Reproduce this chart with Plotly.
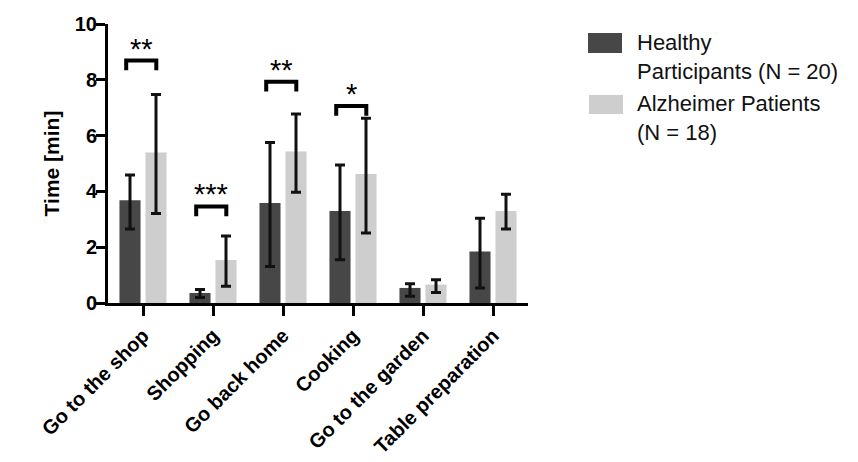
import plotly.graph_objects as go

categories = ["Go to the shop", "Shopping", "Go back home", "Cooking", "Go to the garden", "Table preparation"]

healthy_mean = [3.68, 0.36, 3.58, 3.30, 0.54, 1.85]
healthy_upper = [4.59, 0.48, 5.75, 4.95, 0.69, 3.04]
healthy_lower = [2.65, 0.20, 1.31, 1.55, 0.24, 0.54]

alz_mean = [5.39, 1.54, 5.43, 4.62, 0.66, 3.30]
alz_upper = [7.47, 2.40, 6.77, 6.62, 0.83, 3.90]
alz_lower = [3.21, 0.60, 3.97, 2.51, 0.38, 2.65]

sig_groups = [0, 1, 2, 3]
sig_labels = ["**", "***", "**", "*"]
sig_levels = [8.69, 3.46, 7.93, 7.06]

yticks = [0, 2, 4, 6, 8, 10]

DARK = "#474747"
LIGHT = "#cecece"
INK = "#111111"
FONT = "Liberation Sans, Arial, sans-serif"

# page body has an 8px default margin; compensate so the plot lands where it should
OFF = 8
W, H = 858 - OFF, 462 - OFF
L, R, T, B = 108 - OFF, 330, 24 - OFF, 159
PW, PH = W - L - R, H - T - B


def px_x(px):
    return (px - OFF - L) / PW


def px_y(py):
    return (OFF + H - B - py) / PH


idx = list(range(len(categories)))

fig = go.Figure()
fig.add_trace(go.Bar(
    x=idx, y=healthy_mean, name="Healthy Participants (N = 20)",
    marker=dict(color=DARK, line=dict(width=0)),
    error_y=dict(type="data", symmetric=False,
                 array=[u - m for u, m in zip(healthy_upper, healthy_mean)],
                 arrayminus=[m - l for l, m in zip(healthy_lower, healthy_mean)],
                 color=INK, thickness=3, width=5),
))
fig.add_trace(go.Bar(
    x=idx, y=alz_mean, name="Alzheimer Patients (N = 18)",
    marker=dict(color=LIGHT, line=dict(width=0)),
    error_y=dict(type="data", symmetric=False,
                 array=[u - m for u, m in zip(alz_upper, alz_mean)],
                 arrayminus=[m - l for l, m in zip(alz_lower, alz_mean)],
                 color=INK, thickness=3, width=5),
))

arm = 0.35
left_off, right_off = -0.24, 0.19
shapes = []
annotations = []
for g, lab, lev in zip(sig_groups, sig_labels, sig_levels):
    x0, x1 = g + left_off, g + right_off
    shapes.append(dict(
        type="path", xref="x", yref="y",
        path=f"M {x0},{lev - arm} L {x0},{lev} L {x1},{lev} L {x1},{lev - arm}",
        line=dict(color="black", width=4), layer="above",
    ))
    annotations.append(dict(
        x=(x0 + x1) / 2, y=lev, xref="x", yref="y", text=lab,
        showarrow=False, yanchor="bottom", xanchor="center",
        font=dict(family=FONT, size=29, color="black"), yshift=-6,
    ))

# legend (drawn manually to match large swatches)
shapes.append(dict(type="rect", xref="paper", yref="paper",
                   x0=px_x(588), x1=px_x(622), y0=px_y(53), y1=px_y(33),
                   fillcolor=DARK, line=dict(width=0)))
shapes.append(dict(type="rect", xref="paper", yref="paper",
                   x0=px_x(589), x1=px_x(623), y0=px_y(114), y1=px_y(95),
                   fillcolor=LIGHT, line=dict(width=0)))
annotations.append(dict(x=px_x(635), y=px_y(57.5), xref="paper", yref="paper",
                        text="Healthy<br>Participants (N = 20)", showarrow=False,
                        xanchor="left", yanchor="middle", align="left",
                        font=dict(family=FONT, size=22, color="#111111")))
annotations.append(dict(x=px_x(635), y=px_y(118), xref="paper", yref="paper",
                        text="Alzheimer Patients<br>(N = 18)", showarrow=False,
                        xanchor="left", yanchor="middle", align="left",
                        font=dict(family=FONT, size=22, color="#111111")))

fig.update_layout(
    width=W, height=H,
    margin=dict(l=L, r=R, t=T, b=B, autoexpand=False),
    paper_bgcolor="white", plot_bgcolor="white",
    barmode="group", bargap=0.257, bargroupgap=0.19,
    showlegend=False,
    shapes=shapes, annotations=annotations,
    xaxis=dict(
        range=[-0.5, len(categories) - 0.5], automargin=False,
        tickvals=idx, ticktext=categories, tickangle=-45,
        showline=True, linecolor="black", linewidth=3,
        ticks="outside", ticklen=10, tickwidth=3, tickcolor="black",
        showgrid=False, zeroline=False,
        tickfont=dict(family=FONT, size=20, color="black", weight="bold"),
    ),
    yaxis=dict(
        range=[0, 10], tickvals=yticks, automargin=False,
        showline=True, linecolor="black", linewidth=3,
        ticks="outside", ticklen=9, tickwidth=3, tickcolor="black",
        ticklabelstandoff=-5,
        showgrid=False, zeroline=False,
        tickfont=dict(family=FONT, size=20, color="black", weight="bold"),
        title=dict(text="Time [min]", standoff=10,
                   font=dict(family=FONT, size=21, color="black", weight="bold")),
    ),
)

fig.write_html("out.html")
